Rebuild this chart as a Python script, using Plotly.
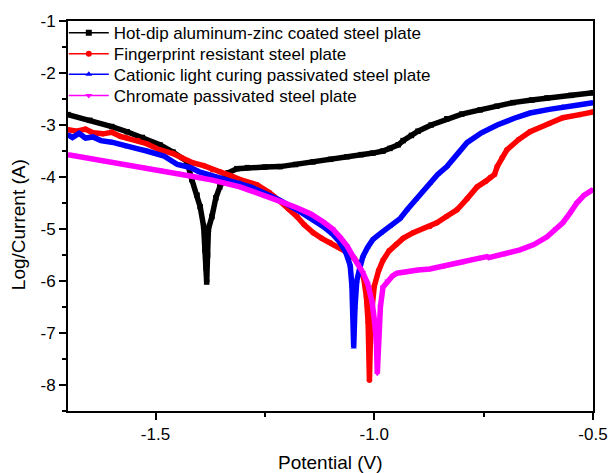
import plotly.graph_objects as go

# ---------------- data ----------------
names = [
    "Hot-dip aluminum-zinc coated steel plate",
    "Fingerprint resistant steel plate",
    "Cationic light curing passivated steel plate",
    "Chromate passivated steel plate",
]
colors = ["#000000", "#ff0000", "#0000ff", "#ff00ff"]
symbols = ["square", "circle", "triangle-up", "triangle-down"]

black_v = [-1.70, -1.65, -1.60, -1.565, -1.53, -1.49, -1.46, -1.428, -1.417, -1.405,
           -1.398, -1.39, -1.387, -1.384, -1.383, -1.381, -1.379, -1.371, -1.362, -1.353,
           -1.343, -1.334, -1.314, -1.29, -1.25, -1.215, -1.18, -1.14, -1.10, -1.062,
           -1.03, -1.003, -0.98, -0.964, -0.945, -0.934, -0.915, -0.90, -0.87, -0.834,
           -0.80, -0.758, -0.72, -0.683, -0.64, -0.605, -0.55, -0.50]
black_i = [-2.80, -2.91, -3.03, -3.13, -3.24, -3.38, -3.52, -3.70, -4.05, -4.35,
           -4.57, -4.95, -5.40, -5.75, -6.02, -5.50, -5.00, -4.76, -4.40, -4.19,
           -4.02, -3.92, -3.84, -3.82, -3.81, -3.80, -3.76, -3.71, -3.66, -3.61,
           -3.57, -3.54, -3.50, -3.45, -3.38, -3.30, -3.20, -3.12, -3.00, -2.88,
           -2.79, -2.71, -2.64, -2.57, -2.52, -2.48, -2.43, -2.38]

red_v = [-1.70, -1.68, -1.66, -1.643, -1.62, -1.60, -1.58, -1.565, -1.54, -1.52,
         -1.49, -1.46, -1.44, -1.414, -1.39, -1.37, -1.353, -1.33, -1.307, -1.268,
         -1.24, -1.215, -1.195, -1.177, -1.16, -1.14, -1.12, -1.101, -1.08, -1.062,
         -1.045, -1.033, -1.024, -1.018, -1.014, -1.012, -1.011, -1.009, -1.006, -1.0,
         -0.99, -0.98, -0.966, -0.95, -0.934, -0.911, -0.873, -0.857, -0.835, -0.811,
         -0.788, -0.765, -0.745, -0.735, -0.725, -0.719, -0.708, -0.697, -0.67, -0.644,
         -0.60, -0.569, -0.53, -0.50]
red_i = [-3.09, -3.12, -3.08, -3.15, -3.17, -3.14, -3.22, -3.25, -3.30, -3.36,
         -3.48, -3.55, -3.63, -3.73, -3.78, -3.86, -3.90, -3.97, -4.05, -4.15,
         -4.30, -4.47, -4.62, -4.76, -4.92, -5.07, -5.18, -5.26, -5.35, -5.45,
         -5.57, -5.72, -5.95, -6.30, -6.80, -7.30, -7.91, -7.20, -6.60, -6.10,
         -5.80, -5.60, -5.42, -5.30, -5.18, -5.07, -4.95, -4.88, -4.76, -4.63,
         -4.42, -4.19, -4.08, -4.01, -3.95, -3.80, -3.63, -3.48, -3.28, -3.13,
         -2.97, -2.86, -2.80, -2.75]

blue_v = [-1.70, -1.69, -1.675, -1.66, -1.643, -1.625, -1.60, -1.58, -1.565, -1.54,
          -1.52, -1.506, -1.48, -1.45, -1.42, -1.40, -1.375, -1.35, -1.33, -1.307,
          -1.28, -1.254, -1.215, -1.177, -1.145, -1.117, -1.095, -1.078, -1.065, -1.055,
          -1.051, -1.049, -1.047, -1.044, -1.04, -1.033, -1.026, -1.015, -1.003, -0.985,
          -0.964, -0.941, -0.925, -0.905, -0.889, -0.873, -0.855, -0.834, -0.81, -0.788,
          -0.755, -0.719, -0.68, -0.644, -0.60, -0.569, -0.53, -0.50]
blue_i = [-3.19, -3.24, -3.16, -3.25, -3.23, -3.30, -3.33, -3.38, -3.42, -3.46,
          -3.50, -3.53, -3.60, -3.76, -3.82, -3.90, -3.96, -4.02, -4.08, -4.11,
          -4.20, -4.30, -4.45, -4.63, -4.79, -4.95, -5.10, -5.26, -5.45, -5.70,
          -6.10, -6.60, -7.27, -6.50, -6.00, -5.75, -5.53, -5.35, -5.20, -5.08,
          -4.95, -4.80, -4.63, -4.43, -4.26, -4.12, -3.95, -3.80, -3.55, -3.34,
          -3.15, -3.00, -2.87, -2.77, -2.70, -2.65, -2.61, -2.57]

mag_v = [-1.70, -1.65, -1.60, -1.565, -1.53, -1.49, -1.45, -1.414, -1.37, -1.33,
         -1.307, -1.28, -1.254, -1.215, -1.177, -1.145, -1.117, -1.095, -1.078, -1.062,
         -1.049, -1.037, -1.026, -1.015, -1.005, -0.999, -0.995, -0.993, -0.990, -0.986,
         -0.98, -0.97, -0.958, -0.948, -0.93, -0.90, -0.873, -0.84, -0.797, -0.77,
         -0.742, -0.738, -0.70, -0.667, -0.635, -0.605, -0.585, -0.569, -0.553, -0.537,
         -0.52, -0.50]
mag_i = [-3.57, -3.64, -3.71, -3.76, -3.81, -3.86, -3.92, -3.99, -4.06, -4.14,
         -4.19, -4.27, -4.36, -4.47, -4.59, -4.71, -4.86, -5.00, -5.16, -5.33,
         -5.52, -5.68, -5.84, -6.05, -6.40, -6.80, -7.20, -7.78, -7.10, -6.50,
         -6.12, -6.00, -5.90, -5.85, -5.82, -5.79, -5.77, -5.72, -5.63, -5.58,
         -5.53, -5.55, -5.48, -5.40, -5.30, -5.15, -5.00, -4.88, -4.70, -4.50,
         -4.35, -4.24]

series_v = [black_v, red_v, blue_v, mag_v]
series_i = [black_i, red_i, blue_i, mag_i]

x_ticks = [-1.5, -1.0, -0.5]
x_ticklabels = ["-1.5", "-1.0", "-0.5"]
y_ticks = [-8, -7, -6, -5, -4, -3, -2, -1]
y_ticklabels = ["-8", "-7", "-6", "-5", "-4", "-3", "-2", "-1"]
x_title = "Potential (V)"
y_title = "Log/Current (A)"

FONT = "Arial, Liberation Sans, sans-serif"
legend_ids = ["legend", "legend2", "legend3", "legend4"]
legend_y = [0.969, 0.915, 0.862, 0.808]

fig = go.Figure()
for v, i, c, s in zip(series_v, series_i, colors, symbols):
    fig.add_trace(go.Scatter(
        x=v, y=i, mode="lines+markers",
        line=dict(color=c, width=5.5),
        marker=dict(symbol=s, size=5.5, color=c),
        showlegend=False, hoverinfo="skip",
    ))
# legend entries with thin lines, one legend per row to control spacing
for n, c, s, lid in zip(names, colors, symbols, legend_ids):
    fig.add_trace(go.Scatter(
        x=[None], y=[None], mode="lines+markers", name=n, legend=lid,
        line=dict(color=c, width=1.5),
        marker=dict(symbol=s, size=6, color=c),
    ))

axis_common = dict(
    showline=True, linecolor="black", linewidth=2, mirror=True,
    ticks="outside", ticklen=7, tickwidth=1.5, tickcolor="black",
    showgrid=False, zeroline=False, automargin=False,
    tickfont=dict(family=FONT, size=17, color="black"),
)

legend_common = dict(
    x=-0.008, xanchor="left", yanchor="middle",
    bgcolor="rgba(0,0,0,0)", borderwidth=0,
    font=dict(family=FONT, size=17, color="black"),
    itemwidth=40,
)

fig.update_layout(
    width=612, height=473,
    margin=dict(l=68, r=19, t=21, b=62),
    plot_bgcolor="white", paper_bgcolor="white",
    font=dict(family=FONT, color="black"),
    xaxis=dict(
        range=[-1.7, -0.5], tickvals=x_ticks, ticktext=x_ticklabels,
        minor=dict(tickvals=[-1.25, -0.75], ticklen=4, tickwidth=1.5,
                   tickcolor="black", ticks="outside"),
        **axis_common,
    ),
    yaxis=dict(
        range=[-8.5, -1], tickvals=y_ticks, ticktext=y_ticklabels,
        minor=dict(tickvals=[-8.5, -7.5, -6.5, -5.5, -4.5, -3.5, -2.5, -1.5],
                   ticklen=4, tickwidth=1.5, tickcolor="black", ticks="outside"),
        **axis_common,
    ),
    annotations=[
        dict(text=x_title, xref="paper", yref="paper", x=0.5, y=-0.133,
             xanchor="center", yanchor="middle", showarrow=False,
             font=dict(family=FONT, size=19, color="black")),
        dict(text=y_title, xref="paper", yref="paper", x=-0.093, y=0.477,
             xanchor="center", yanchor="middle", showarrow=False, textangle=-90,
             font=dict(family=FONT, size=19, color="black")),
    ],
)
for lid, ly in zip(legend_ids, legend_y):
    fig.update_layout({lid: dict(y=ly, **legend_common)})

fig.write_html("out.html")
